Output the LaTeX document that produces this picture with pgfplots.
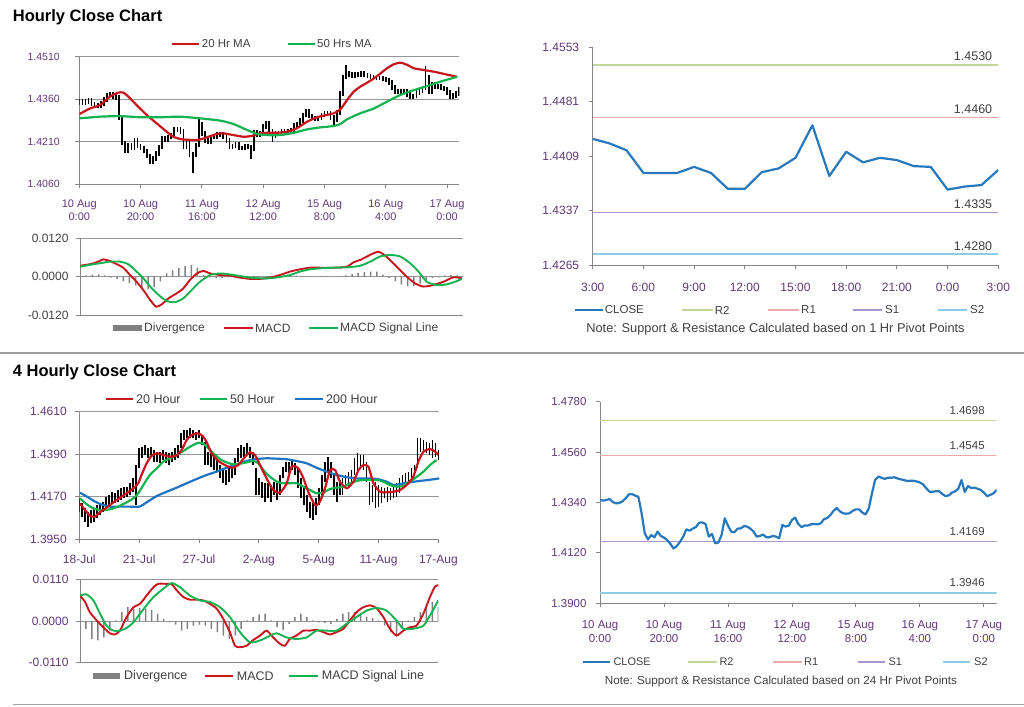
\documentclass[border=0pt]{standalone}
\usepackage{fontspec}
\setmainfont{Liberation Sans}
\usepackage{pgfplots}
\usepackage{pgfplotstable}
\pgfplotsset{compat=1.18}

\definecolor{axgray}{RGB}{134,134,134}
\definecolor{gridgray}{RGB}{150,150,150}
\definecolor{tickpurple}{RGB}{96,56,120}
\definecolor{legtext}{RGB}{64,64,64}
\definecolor{mared}{RGB}{200,22,30}
\definecolor{magreen}{RGB}{20,178,80}
\definecolor{mablue}{RGB}{30,115,195}
\definecolor{closeblue}{RGB}{40,120,190}
\definecolor{rtwo}{RGB}{196,214,155}
\definecolor{rone}{RGB}{238,170,170}
\definecolor{sone}{RGB}{170,150,205}
\definecolor{stwo}{RGB}{140,205,228}
\definecolor{divgray}{RGB}{128,128,128}
\definecolor{sepgray}{RGB}{160,160,160}

% hourly data: hour index, close, low, high
\pgfplotstableread{
h c lo hi
0 1.4351 1.4341 1.4361
1 1.4348 1.4340 1.4359
2 1.4351 1.4340 1.4359
3 1.4355 1.4343 1.4363
4 1.4342 1.4334 1.4363
5 1.4336 1.4328 1.4350
6 1.4338 1.4328 1.4346
7 1.4345 1.4330 1.4353
8 1.4358 1.4337 1.4366
9 1.4375 1.4350 1.4383
10 1.4377 1.4367 1.4385
11 1.4370 1.4362 1.4385
12 1.4365 1.4357 1.4378
13 1.4293 1.4285 1.4373
14 1.4205 1.4197 1.4301
15 1.4179 1.4171 1.4213
16 1.4198 1.4171 1.4206
17 1.4188 1.4180 1.4206
18 1.4213 1.4180 1.4221
19 1.4194 1.4186 1.4221
20 1.4187 1.4179 1.4202
21 1.4176 1.4168 1.4195
22 1.4159 1.4151 1.4184
23 1.4139 1.4131 1.4167
24 1.4150 1.4131 1.4158
25 1.4168 1.4142 1.4176
26 1.4191 1.4160 1.4199
27 1.4223 1.4183 1.4231
28 1.4217 1.4209 1.4231
29 1.4226 1.4209 1.4234
30 1.4233 1.4218 1.4241
31 1.4252 1.4225 1.4260
32 1.4253 1.4244 1.4261
33 1.4246 1.4238 1.4261
34 1.4191 1.4183 1.4254
35 1.4203 1.4183 1.4211
36 1.4162 1.4154 1.4211
37 1.4165 1.4100 1.4173
38 1.4198 1.4157 1.4206
39 1.4271 1.4190 1.4290
40 1.4239 1.4231 1.4279
41 1.4213 1.4205 1.4247
42 1.4210 1.4202 1.4221
43 1.4226 1.4202 1.4234
44 1.4227 1.4218 1.4235
45 1.4237 1.4219 1.4245
46 1.4235 1.4227 1.4245
47 1.4226 1.4218 1.4243
48 1.4213 1.4205 1.4234
49 1.4191 1.4183 1.4221
50 1.4194 1.4183 1.4202
51 1.4200 1.4186 1.4208
52 1.4188 1.4180 1.4208
53 1.4188 1.4180 1.4196
54 1.4194 1.4180 1.4202
55 1.4191 1.4183 1.4202
56 1.4184 1.4148 1.4199
57 1.4242 1.4176 1.4250
58 1.4235 1.4227 1.4250
59 1.4239 1.4227 1.4247
60 1.4264 1.4231 1.4272
61 1.4274 1.4256 1.4282
62 1.4246 1.4238 1.4282
63 1.4232 1.4210 1.4254
64 1.4240 1.4224 1.4248
65 1.4239 1.4231 1.4248
66 1.4245 1.4231 1.4253
67 1.4246 1.4237 1.4254
68 1.4245 1.4237 1.4254
69 1.4249 1.4237 1.4257
70 1.4267 1.4241 1.4275
71 1.4272 1.4259 1.4280
72 1.4285 1.4264 1.4293
73 1.4304 1.4277 1.4312
74 1.4316 1.4296 1.4324
75 1.4301 1.4293 1.4324
76 1.4293 1.4285 1.4309
77 1.4291 1.4283 1.4301
78 1.4293 1.4283 1.4301
79 1.4304 1.4285 1.4312
80 1.4310 1.4296 1.4318
81 1.4310 1.4302 1.4318
82 1.4296 1.4288 1.4318
83 1.4288 1.4270 1.4304
84 1.4313 1.4280 1.4321
85 1.4380 1.4305 1.4388
86 1.4438 1.4372 1.4446
87 1.4453 1.4430 1.4480
88 1.4448 1.4440 1.4461
89 1.4443 1.4435 1.4456
90 1.4448 1.4435 1.4456
91 1.4448 1.4440 1.4456
92 1.4450 1.4440 1.4458
93 1.4445 1.4437 1.4458
94 1.4441 1.4433 1.4453
95 1.4438 1.4430 1.4449
96 1.4434 1.4426 1.4446
97 1.4435 1.4426 1.4443
98 1.4435 1.4427 1.4443
99 1.4432 1.4424 1.4443
100 1.4427 1.4419 1.4440
101 1.4419 1.4411 1.4435
102 1.4402 1.4394 1.4427
103 1.4387 1.4379 1.4410
104 1.4387 1.4379 1.4395
105 1.4389 1.4379 1.4397
106 1.4389 1.4381 1.4397
107 1.4377 1.4369 1.4397
108 1.4368 1.4360 1.4385
109 1.4371 1.4360 1.4379
110 1.4383 1.4363 1.4391
111 1.4389 1.4375 1.4397
112 1.4400 1.4381 1.4408
113 1.4438 1.4392 1.4477
114 1.4386 1.4378 1.4446
115 1.4412 1.4378 1.4420
116 1.4403 1.4395 1.4420
117 1.4405 1.4395 1.4413
118 1.4400 1.4392 1.4413
119 1.4395 1.4387 1.4408
120 1.4383 1.4375 1.4403
121 1.4368 1.4360 1.4391
122 1.4373 1.4360 1.4381
123 1.4380 1.4365 1.4388
124 1.4395 1.4372 1.4403
}\hourly

% 4-hourly data: bar index, low, high
\pgfplotstableread{
b lo hi
0 1.4093 1.4162
1 1.4067 1.4136
2 1.4041 1.4110
3 1.4015 1.4093
4 1.4033 1.4102
5 1.4041 1.4110
6 1.4059 1.4127
7 1.4076 1.4136
8 1.4093 1.4145
9 1.4110 1.4171
10 1.4119 1.4179
11 1.4136 1.4196
12 1.4136 1.4188
13 1.4145 1.4205
14 1.4153 1.4214
15 1.4162 1.4222
16 1.4171 1.4222
17 1.4179 1.4240
18 1.4196 1.4265
19 1.4127 1.4334
20 1.4317 1.4420
21 1.4369 1.4429
22 1.4386 1.4438
23 1.4369 1.4420
24 1.4377 1.4429
25 1.4352 1.4412
26 1.4352 1.4403
27 1.4343 1.4403
28 1.4360 1.4412
29 1.4343 1.4403
30 1.4334 1.4395
31 1.4352 1.4403
32 1.4360 1.4420
33 1.4369 1.4438
34 1.4420 1.4498
35 1.4464 1.4515
36 1.4472 1.4515
37 1.4472 1.4524
38 1.4472 1.4515
39 1.4464 1.4507
40 1.4472 1.4515
41 1.4438 1.4489
42 1.4334 1.4455
43 1.4334 1.4403
44 1.4326 1.4395
45 1.4308 1.4386
46 1.4300 1.4360
47 1.4265 1.4334
48 1.4240 1.4317
49 1.4231 1.4308
50 1.4248 1.4317
51 1.4265 1.4334
52 1.4283 1.4369
53 1.4352 1.4420
54 1.4369 1.4438
55 1.4377 1.4429
56 1.4386 1.4446
57 1.4369 1.4429
58 1.4334 1.4403
59 1.4179 1.4317
60 1.4179 1.4265
61 1.4162 1.4248
62 1.4145 1.4240
63 1.4162 1.4240
64 1.4145 1.4231
65 1.4179 1.4248
66 1.4153 1.4240
67 1.4179 1.4283
68 1.4265 1.4326
69 1.4300 1.4352
70 1.4291 1.4352
71 1.4308 1.4360
72 1.4283 1.4343
73 1.4214 1.4317
74 1.4162 1.4265
75 1.4127 1.4214
76 1.4093 1.4179
77 1.4059 1.4145
78 1.4050 1.4136
79 1.4076 1.4162
80 1.4127 1.4214
81 1.4179 1.4283
82 1.4248 1.4352
83 1.4291 1.4377
84 1.4265 1.4352
85 1.4179 1.4283
86 1.4145 1.4248
87 1.4179 1.4257
88 1.4179 1.4265
89 1.4214 1.4283
90 1.4214 1.4300
91 1.4231 1.4308
92 1.4283 1.4369
93 1.4308 1.4395
94 1.4317 1.4386
95 1.4308 1.4386
96 1.4248 1.4352
97 1.4127 1.4248
98 1.4145 1.4231
99 1.4110 1.4248
100 1.4119 1.4231
101 1.4136 1.4222
102 1.4162 1.4214
103 1.4145 1.4222
104 1.4153 1.4214
105 1.4162 1.4231
106 1.4171 1.4240
107 1.4188 1.4265
108 1.4214 1.4283
109 1.4222 1.4291
110 1.4240 1.4300
111 1.4257 1.4317
112 1.4283 1.4334
113 1.4317 1.4472
114 1.4403 1.4472
115 1.4403 1.4464
116 1.4395 1.4455
117 1.4386 1.4446
118 1.4369 1.4464
119 1.4377 1.4446
120 1.4360 1.4412
}\fourhourly

\pgfplotsset{
  fxbase/.style={
    scale only axis,
    anchor=north west,
    axis x line*=bottom, axis y line*=left,
    axis line style={draw=axgray, line width=0.9pt, -},
    tick style={draw=axgray, line width=0.9pt},
    tick align=outside, major tick length=4pt,
    minor tick num=0,
    scaled y ticks=false, scaled x ticks=false,
    grid style={draw=gridgray, line width=0.9pt},
  },
  candle/.style={only marks, mark=*, mark size=0pt,
    mark options={draw=none, fill=none},
    error bars/.cd, y dir=plus, y explicit, error mark=none,
    error bar style={draw=black, line width=1.7pt}},
}

\tikzset{
  lgt/.style={anchor=west, inner sep=0pt, text=legtext},
}

\begin{document}
\begin{tikzpicture}
\useasboundingbox (0pt,0pt) rectangle (1024pt,-706pt);

% ---------------- titles and separators
\node[anchor=base west, inner sep=0pt, font=\bfseries\fontsize{16.5}{20}\selectfont] at (12.7pt,-22pt) {Hourly Close Chart};
\node[anchor=base west, inner sep=0pt, font=\bfseries\fontsize{16.5}{20}\selectfont] at (12.7pt,-376pt) {4 Hourly Close Chart};
\draw[sepgray, line width=1.6pt] (0pt,-353pt) -- (1024pt,-353pt);
\draw[sepgray, line width=1.6pt] (13pt,-704.5pt) -- (1024pt,-704.5pt);

% ================= Panel 1: hourly candles
\begin{axis}[fxbase, at={(79.3pt,-56.7pt)}, width=380pt, height=127.3pt,
  xmin=0, xmax=124, ymin=1.4060, ymax=1.4510,
  ytick={1.4060,1.4210,1.4360,1.4510},
  yticklabels={1.4060,1.4210,1.4360,1.4510},
  ymajorgrids,
  xtick={0,20,40,60,80,100,120},
  xticklabels={{10 Aug\\0:00},{10 Aug\\20:00},{11 Aug\\16:00},{12 Aug\\12:00},{15 Aug\\8:00},{16 Aug\\4:00},{17 Aug\\0:00}},
  yticklabel style={font=\fontsize{10.5}{12}\selectfont, text=tickpurple, xshift=-12pt},
  xticklabel style={font=\fontsize{11}{13.3}\selectfont, text=tickpurple, align=center, yshift=-8pt},
]
\addplot[candle] table[x=h, y=lo, y error plus expr=\thisrow{hi}-\thisrow{lo}] {\hourly};
\addplot[mared, line width=2.2pt, smooth, tension=0.4] coordinates {
(0,1.4307)(3.5,1.4327)(6.8,1.4339)(10,1.4369)(12.7,1.4383)(14.4,1.4383)(16,1.4369)(18.7,1.4339)(22,1.4304)(25.3,1.4274)(28.5,1.4245)(30.7,1.4227)(33.4,1.4218)(36.2,1.4216)(38.9,1.4216)(41.6,1.4225)(44.9,1.4237)(47,1.4239)(50.3,1.4233)(53.6,1.4227)(56.3,1.4230)(59,1.4239)(61.2,1.4241)(64.5,1.4241)(67.8,1.4245)(71,1.4257)(74.3,1.4280)(77.6,1.4296)(80.8,1.4304)(83,1.4310)(85.2,1.4324)(87.4,1.4357)(89.5,1.4386)(91.7,1.4404)(93.9,1.4418)(96.1,1.4433)(98.3,1.4451)(100.4,1.4469)(102.6,1.4483)(104.8,1.4489)(107,1.4481)(109.2,1.4469)(112.4,1.4463)(115.7,1.4457)(119,1.4449)(123.3,1.4439)};
\addplot[magreen, line width=2.2pt, smooth, tension=0.4] coordinates {
(0,1.4292)(6.8,1.4298)(13.3,1.4300)(19.8,1.4296)(26.4,1.4296)(32.9,1.4298)(39.4,1.4292)(46,1.4284)(50.3,1.4272)(54.7,1.4251)(58,1.4237)(61.2,1.4233)(65.6,1.4233)(69.9,1.4241)(74.3,1.4253)(78.6,1.4260)(83,1.4265)(85.2,1.4272)(87.4,1.4289)(91.7,1.4310)(96.1,1.4327)(100.4,1.4351)(104.8,1.4375)(109.2,1.4392)(113.5,1.4406)(117.9,1.4422)(123.3,1.4439)};
\end{axis}
\draw[mared, line width=2pt] (171.7pt,-44pt) -- (199pt,-44pt);
\node[lgt, font=\fontsize{11.5}{13}\selectfont] at (201.7pt,-44pt) {20 Hr MA};
\draw[magreen, line width=2pt] (288.3pt,-44pt) -- (315pt,-44pt);
\node[lgt, font=\fontsize{11.5}{13}\selectfont] at (317pt,-44pt) {50 Hrs MA};

% ================= Panel 2: hourly MACD
\begin{axis}[fxbase, at={(80pt,-238.3pt)}, width=383.3pt, height=76.7pt,
  xmin=0, xmax=124, ymin=-0.012, ymax=0.012,
  ytick={-0.012,0,0.012}, yticklabels={-0.0120,0.0000,0.0120},
  ymajorgrids, xtick=\empty,
  yticklabel style={font=\fontsize{12}{14}\selectfont, text=legtext, xshift=-4pt},
]
\addplot[ybar, bar width=1.5pt, bar shift=0pt, fill=divgray, draw=none] coordinates {
(0,0.0002)(2,0.0004)(4,0.0006)(6,0.0007)(8,0.0004)(10,-0.0003)(12,-0.0007)(14,-0.0014)(16,-0.0020)(18,-0.0027)(20,-0.0033)(22,-0.0038)(24,-0.0033)(26,-0.0015)(28,0.0010)(30,0.0020)(32,0.0027)(34,0.0033)(36,0.0036)(38,0.0028)(40,0.0005)(42,-0.0002)(44,-0.0004)(46,-0.0005)(48,-0.0002)(50,-0.0002)(52,-0.0001)(54,-0.0002)(56,-0.0002)(58,-0.0001)(60,0.0001)(62,0.0002)(64,0.0003)(66,0.0002)(68,0.0002)(70,0.0003)(72,0.0002)(74,0.0002)(76,0.0001)(78,0.0001)(80,0.0001)(82,0.0001)(84,0.0002)(86,0.0004)(88,0.0008)(90,0.0012)(92,0.0014)(94,0.0016)(96,0.0016)(98,0.0006)(100,-0.0004)(102,-0.0014)(104,-0.0024)(106,-0.0030)(108,-0.0030)(110,-0.0022)(112,-0.0010)(114,-0.0004)(116,-0.0002)(118,0.0004)(120,0.0005)(122,0.0004)(124,0.0002)};
\addplot[mared, line width=1.9pt, smooth, tension=0.4] coordinates {
(0,0.0034)(3.2,0.0039)(5.4,0.0045)(7.6,0.0054)(9.7,0.0049)(11.9,0.0039)(14,0.0028)(16.2,0.0005)(18.3,-0.0016)(20.5,-0.0042)(22.7,-0.0073)(24.6,-0.0094)(26.4,-0.0087)(28.6,-0.0068)(31.3,-0.0052)(33.4,-0.0037)(35.6,-0.0010)(37.8,0.0010)(39.9,0.0018)(42.1,0.0010)(45.3,0.0005)(48.5,0.0003)(51.8,-0.0003)(55,-0.0007)(58.3,-0.0007)(61.5,-0.0003)(64.7,0.0005)(68,0.0016)(71.2,0.0023)(74.4,0.0028)(77.7,0.0028)(82,0.0028)(86.3,0.0031)(88.5,0.0045)(90.6,0.0052)(92.8,0.0063)(94.9,0.0073)(96.5,0.0078)(98.2,0.0070)(100.3,0.0052)(103,0.0026)(105.7,0)(108.4,-0.0021)(111.1,-0.0031)(114.3,-0.0026)(117.6,-0.0016)(120.8,-0.0002)(123.5,-0.0005)};
\addplot[magreen, line width=1.9pt, smooth, tension=0.4] coordinates {
(0,0.0031)(3.2,0.0037)(6.5,0.0042)(9.7,0.0047)(12.9,0.0047)(15.6,0.0039)(18.3,0.0016)(20.5,-0.0005)(22.7,-0.0031)(25.4,-0.0057)(28,-0.0076)(30.7,-0.0080)(33.4,-0.0068)(36.1,-0.0042)(38.8,-0.0016)(42.1,0.0005)(45.3,0.0010)(48.5,0.0007)(51.8,0.0002)(55,-0.0003)(58.3,-0.0005)(61.5,-0.0005)(64.7,-0.0001)(68,0.0005)(71.2,0.0016)(74.4,0.0023)(77.7,0.0026)(82,0.0028)(86.3,0.0029)(90.6,0.0034)(93.9,0.0047)(97.1,0.0063)(100.3,0.0068)(103.6,0.0063)(106.8,0.0042)(109.5,0.0016)(112.2,-0.0016)(115.4,-0.0026)(118.7,-0.0024)(121.9,-0.0014)(123.5,-0.0007)};
\end{axis}
\fill[divgray] (113pt,-325.3pt) rectangle (142pt,-331.3pt);
\node[lgt, font=\fontsize{12}{14}\selectfont] at (144pt,-328.3pt) {Divergence};
\draw[mared, line width=2pt] (224pt,-328.3pt) -- (253pt,-328.3pt);
\node[lgt, font=\fontsize{12}{14}\selectfont] at (255pt,-328.3pt) {MACD};
\draw[magreen, line width=2pt] (309pt,-328.3pt) -- (338pt,-328.3pt);
\node[lgt, font=\fontsize{12}{14}\selectfont] at (340pt,-328.3pt) {MACD Signal Line};

% ================= Panel 3: hourly close with 1 Hr pivots
\begin{axis}[fxbase, at={(592.7pt,-47.3pt)}, width=405.6pt, height=218pt,
  xmin=0, xmax=24, ymin=1.4265, ymax=1.4553,
  ytick={1.4265,1.4337,1.4409,1.4481,1.4553},
  yticklabels={1.4265,1.4337,1.4409,1.4481,1.4553},
  xtick={0,3,6,9,12,15,18,21,24},
  xticklabels={3:00,6:00,9:00,12:00,15:00,18:00,21:00,0:00,3:00},
  yticklabel style={font=\fontsize{12}{14}\selectfont, text=tickpurple, xshift=-6pt},
  xticklabel style={font=\fontsize{12}{14}\selectfont, text=tickpurple, yshift=-10pt},
]
\addplot[rtwo, line width=1.6pt] coordinates {(0,1.4530)(24,1.4530)};
\addplot[rone, line width=1.6pt] coordinates {(0,1.4460)(24,1.4460)};
\addplot[sone, line width=1.6pt] coordinates {(0,1.4335)(24,1.4335)};
\addplot[stwo, line width=1.6pt] coordinates {(0,1.4280)(24,1.4280)};
\addplot[closeblue, line width=2.2pt, line join=round] coordinates {
(0,1.4432)(1,1.4426)(2,1.4417)(3,1.4387)(4,1.4387)(5,1.4387)(6,1.4395)(7,1.4387)(8,1.4366)(9,1.4366)(10,1.4388)(11,1.4393)(12,1.4407)(13,1.4450)(14,1.4383)(15,1.4415)(16,1.4401)(17,1.4407)(18,1.4404)(19,1.4396)(20,1.4395)(21,1.4365)(22,1.4369)(23,1.4371)(24,1.4391)};
\node[anchor=south east, inner sep=0pt, yshift=3.5pt, text=legtext, font=\fontsize{12.5}{14}\selectfont] at (axis cs:23.65,1.4530) {1.4530};
\node[anchor=south east, inner sep=0pt, yshift=3.5pt, text=legtext, font=\fontsize{12.5}{14}\selectfont] at (axis cs:23.65,1.4460) {1.4460};
\node[anchor=south east, inner sep=0pt, yshift=3.5pt, text=legtext, font=\fontsize{12.5}{14}\selectfont] at (axis cs:23.65,1.4335) {1.4335};
\node[anchor=south east, inner sep=0pt, yshift=3.5pt, text=legtext, font=\fontsize{12.5}{14}\selectfont] at (axis cs:23.65,1.4280) {1.4280};
\end{axis}
\draw[closeblue, line width=2pt] (575pt,-310pt) -- (602.7pt,-310pt);
\node[lgt, font=\fontsize{11.5}{13}\selectfont] at (604.7pt,-310pt) {CLOSE};
\draw[rtwo, line width=1.6pt] (682pt,-310pt) -- (712.7pt,-310pt);
\node[lgt, font=\fontsize{11.5}{13}\selectfont] at (714.7pt,-310pt) {R2};
\draw[rone, line width=1.6pt] (768pt,-310pt) -- (799pt,-310pt);
\node[lgt, font=\fontsize{11.5}{13}\selectfont] at (801pt,-310pt) {R1};
\draw[sone, line width=1.6pt] (853pt,-310pt) -- (882pt,-310pt);
\node[lgt, font=\fontsize{11.5}{13}\selectfont] at (885pt,-310pt) {S1};
\draw[stwo, line width=1.6pt] (938pt,-310pt) -- (967pt,-310pt);
\node[lgt, font=\fontsize{11.5}{13}\selectfont] at (970pt,-310pt) {S2};
\node[inner sep=0pt, text=legtext, font=\fontsize{12.8}{15}\selectfont] at (775.5pt,-329pt) {Note: Support \& Resistance Calculated based on 1 Hr Pivot Points};

% ================= Panel 4: 4-hourly candles
\begin{axis}[fxbase, at={(79.3pt,-411.7pt)}, width=360pt, height=127.6pt,
  xmin=0, xmax=120.3, ymin=1.3950, ymax=1.4610,
  ytick={1.3950,1.4170,1.4390,1.4610},
  yticklabels={1.3950,1.4170,1.4390,1.4610},
  ymajorgrids,
  xtick={0,20,40,60,80,100,120},
  xticklabels={18-Jul,21-Jul,27-Jul,2-Aug,5-Aug,11-Aug,17-Aug},
  yticklabel style={font=\fontsize{12}{14}\selectfont, text=tickpurple, xshift=-5pt},
  xticklabel style={font=\fontsize{12}{14}\selectfont, text=tickpurple, yshift=-8pt},
]
\addplot[candle] table[x=b, y=lo, y error plus expr=\thisrow{hi}-\thisrow{lo}] {\fourhourly};
\addplot[mablue, line width=2.2pt, smooth, tension=0.4] coordinates {
(0.2,1.4191)(2.5,1.4171)(4.7,1.4150)(6.9,1.4133)(10.3,1.4119)(13.6,1.4119)(16.9,1.4119)(20.1,1.4119)(22.5,1.4141)(25.9,1.4174)(29.2,1.4196)(32.5,1.4217)(35.9,1.4240)(39.2,1.4262)(42.6,1.4283)(45.9,1.4300)(49.2,1.4320)(52.6,1.4338)(55.9,1.4355)(59.3,1.4365)(62.6,1.4369)(66,1.4367)(69.3,1.4364)(72.6,1.4355)(76,1.4343)(79.3,1.4320)(82.7,1.4300)(86,1.4283)(89.4,1.4271)(92.7,1.4265)(96,1.4265)(99.4,1.4262)(102.7,1.4248)(105,1.4231)(107.2,1.4236)(110.5,1.4245)(113.9,1.4252)(117.2,1.4258)(120.3,1.4265)};
\addplot[magreen, line width=2.2pt, smooth, tension=0.4] coordinates {
(0.2,1.4162)(2.5,1.4131)(4.7,1.4110)(6.9,1.4102)(9.1,1.4102)(11.4,1.4110)(13.6,1.4124)(15.8,1.4141)(18.1,1.4162)(19.7,1.4188)(21.4,1.4231)(23.6,1.4283)(26.1,1.4320)(28.1,1.4352)(30.3,1.4369)(32.5,1.4386)(34.8,1.4407)(37,1.4429)(39.2,1.4446)(40.9,1.4450)(42.6,1.4429)(44.8,1.4395)(47,1.4365)(49.2,1.4348)(51.5,1.4338)(53.7,1.4341)(55.9,1.4348)(58.2,1.4355)(59.8,1.4343)(61.5,1.4308)(63.7,1.4274)(66,1.4248)(68.2,1.4240)(70.4,1.4240)(72.6,1.4240)(74.9,1.4222)(77.1,1.4205)(79.3,1.4188)(81.6,1.4193)(83.8,1.4210)(86,1.4217)(88.2,1.4222)(90.5,1.4240)(92.7,1.4252)(94.9,1.4257)(97.2,1.4257)(99.4,1.4257)(101.6,1.4248)(103.8,1.4231)(106.1,1.4222)(108.3,1.4227)(110.5,1.4248)(112.8,1.4274)(115,1.4300)(117.2,1.4334)(119.4,1.4360)};
\addplot[mared, line width=2.2pt, smooth, tension=0.4] coordinates {
(0.2,1.4136)(1.9,1.4102)(3.6,1.4072)(5.2,1.4067)(6.9,1.4090)(9.1,1.4114)(11.4,1.4141)(13.6,1.4165)(15.8,1.4188)(18.1,1.4214)(19.7,1.4240)(20.8,1.4283)(22.5,1.4343)(24.2,1.4383)(26.1,1.4395)(28.1,1.4386)(30.3,1.4377)(32.5,1.4383)(34.2,1.4412)(35.9,1.4464)(37.5,1.4489)(39.8,1.4498)(41.4,1.4481)(42.6,1.4451)(44.2,1.4395)(46.5,1.4355)(48.7,1.4334)(50.9,1.4320)(53.1,1.4334)(55.4,1.4377)(57,1.4400)(58.7,1.4386)(60.4,1.4334)(62.6,1.4265)(64.8,1.4205)(67.1,1.4191)(69.3,1.4240)(71,1.4326)(73.2,1.4317)(74.9,1.4265)(76.5,1.4196)(78.8,1.4127)(80.4,1.4145)(82.1,1.4214)(83.8,1.4308)(85.5,1.4308)(87.1,1.4248)(89.4,1.4214)(91.6,1.4248)(93.3,1.4308)(94.9,1.4334)(96.6,1.4326)(98.3,1.4240)(100.5,1.4196)(102.7,1.4193)(105,1.4196)(107.2,1.4205)(109.4,1.4231)(111.6,1.4274)(113.3,1.4352)(115,1.4403)(117.2,1.4417)(118.9,1.4403)(120,1.4386)};
\end{axis}
\draw[mared, line width=2pt] (106pt,-399.3pt) -- (133.3pt,-399.3pt);
\node[lgt, font=\fontsize{12.5}{14}\selectfont] at (136pt,-399.3pt) {20 Hour};
\draw[magreen, line width=2pt] (200pt,-399.3pt) -- (227.3pt,-399.3pt);
\node[lgt, font=\fontsize{12.5}{14}\selectfont] at (230pt,-399.3pt) {50 Hour};
\draw[mablue, line width=2pt] (295pt,-399.3pt) -- (322.7pt,-399.3pt);
\node[lgt, font=\fontsize{12.5}{14}\selectfont] at (326pt,-399.3pt) {200 Hour};

% ================= Panel 5: 4-hourly MACD
\begin{axis}[fxbase, at={(80pt,-579.7pt)}, width=358.3pt, height=83pt,
  xmin=0, xmax=120, ymin=-0.011, ymax=0.011,
  ytick={-0.011,0,0.011}, yticklabels={-0.0110,0.0000,0.0110},
  ymajorgrids, xtick=\empty,
  yticklabel style={font=\fontsize{12}{14}\selectfont, text=tickpurple, xshift=-4pt},
]
\addplot[ybar, bar width=1.5pt, bar shift=0pt, fill=divgray, draw=none] coordinates {
(0,0)(2,-0.0020)(4,-0.0047)(6,-0.0051)(8,-0.0043)(10,-0.0025)(12,0.0002)(14,0.0024)(16,0.0037)(18,0.0033)(20,0.0035)(22,0.0033)(24,0.0030)(26,0.0020)(28,0.0006)(30,-0.0003)(32,-0.0009)(34,-0.0025)(36,-0.0020)(38,-0.0012)(40,-0.0009)(42,-0.0012)(44,-0.0020)(46,-0.0029)(48,-0.0038)(50,-0.0047)(52,-0.0038)(54,-0.0020)(56,0.0002)(58,0.0011)(60,0.0018)(62,0.0020)(64,0.0002)(66,-0.0016)(68,-0.0023)(70,-0.0007)(72,0.0011)(74,0.0020)(76,0.0011)(78,0.0002)(80,-0.0003)(82,-0.0005)(84,-0.0007)(86,0.0006)(88,0.0020)(90,0.0024)(92,0.0024)(94,0.0020)(96,0.0012)(98,0.0009)(100,0.0002)(102,-0.0012)(104,-0.0029)(106,-0.0038)(108,-0.0020)(110,0.0002)(112,0.0011)(114,0.0024)(116,0.0037)(118,0.0051)(120,0.0037)};
\addplot[mared, line width=1.9pt, smooth, tension=0.4] coordinates {
(0,0.0068)(1.7,0.0051)(3.3,0.0024)(5.6,0.0002)(7.8,-0.0016)(10,-0.0032)(11.7,-0.0035)(13.4,-0.0025)(15.6,0.0011)(17.9,0.0037)(20.1,0.0046)(22.3,0.0068)(24.6,0.0090)(26.2,0.0099)(29,0.0099)(30.7,0.0098)(32.4,0.0082)(34.6,0.0064)(36.8,0.0057)(39.1,0.0057)(41.3,0.0055)(43.5,0.0046)(45.8,0.0033)(48,0.0006)(50.2,-0.0029)(51.9,-0.0065)(53.6,-0.0069)(55.8,-0.0065)(58,-0.0050)(60.3,-0.0038)(62.5,-0.0025)(64.7,-0.0043)(67,-0.0060)(68.6,-0.0065)(70.3,-0.0047)(72.5,-0.0038)(74.8,-0.0025)(77,-0.0025)(79.2,-0.0023)(81.5,-0.0029)(83.7,-0.0035)(85.9,-0.0029)(88.2,-0.0020)(90.4,0.0002)(92.6,0.0024)(94.9,0.0037)(97.1,0.0042)(99.3,0.0035)(101.6,0.0011)(103.8,-0.0020)(106,-0.0038)(108.3,-0.0025)(110.5,-0.0016)(112.7,-0.0012)(115,0.0020)(117.2,0.0064)(118.9,0.0092)(120,0.0095)};
\addplot[magreen, line width=1.9pt, smooth, tension=0.4] coordinates {
(0,0.0068)(2.2,0.0071)(4.5,0.0055)(6.7,0.0020)(8.9,-0.0012)(11.2,-0.0025)(13.4,-0.0025)(15.6,-0.0018)(17.9,-0.0003)(20.1,0.0020)(22.3,0.0042)(24.6,0.0064)(27.9,0.0086)(30.7,0.0101)(33.5,0.0090)(36.8,0.0068)(40.2,0.0055)(43.5,0.0051)(46.9,0.0037)(50.2,0.0011)(53.6,-0.0029)(56.9,-0.0056)(60.3,-0.0051)(62.5,-0.0043)(65.8,-0.0032)(69.2,-0.0043)(72.5,-0.0047)(75.9,-0.0043)(79.2,-0.0025)(82.6,-0.0025)(85.9,-0.0025)(89.3,-0.0007)(92.6,0.0011)(96,0.0028)(99.3,0.0035)(102.7,0.0028)(106,0.0002)(108.3,-0.0020)(111.6,-0.0020)(115,-0.0012)(117.2,0.0015)(120,0.0055)};
\end{axis}
\fill[divgray] (92.7pt,-673pt) rectangle (120pt,-679pt);
\node[lgt, font=\fontsize{12.5}{14}\selectfont] at (124pt,-676pt) {Divergence};
\draw[mared, line width=2pt] (205pt,-676pt) -- (233.3pt,-676pt);
\node[lgt, font=\fontsize{12.5}{14}\selectfont] at (236.7pt,-676pt) {MACD};
\draw[magreen, line width=2pt] (289.3pt,-676pt) -- (318.3pt,-676pt);
\node[lgt, font=\fontsize{12.5}{14}\selectfont] at (321.7pt,-676pt) {MACD Signal Line};

% ================= Panel 6: hourly close with 24 Hr pivots
\begin{axis}[fxbase, at={(600pt,-401.7pt)}, width=396.7pt, height=201.6pt,
  xmin=0, xmax=124, ymin=1.3900, ymax=1.4780,
  ytick={1.3900,1.4120,1.4340,1.4560,1.4780},
  yticklabels={1.3900,1.4120,1.4340,1.4560,1.4780},
  xtick={0,20,40,60,80,100,120},
  xticklabels={{10 Aug\\0:00},{10 Aug\\20:00},{11 Aug\\16:00},{12 Aug\\12:00},{15 Aug\\8:00},{16 Aug\\4:00},{17 Aug\\0:00}},
  yticklabel style={font=\fontsize{11.5}{13}\selectfont, text=tickpurple, xshift=-6pt},
  xticklabel style={font=\fontsize{11.5}{13.3}\selectfont, text=tickpurple, align=center, yshift=-10pt},
]
\addplot[rtwo, line width=1.6pt] coordinates {(0,1.4698)(124,1.4698)};
\addplot[rone, line width=1.6pt] coordinates {(0,1.4545)(124,1.4545)};
\addplot[sone, line width=1.6pt] coordinates {(0,1.4169)(124,1.4169)};
\addplot[stwo, line width=1.6pt] coordinates {(0,1.3946)(124,1.3946)};
\addplot[closeblue, line width=2.2pt, line join=round] table[x=h, y=c] {\hourly};
\node[anchor=south east, inner sep=0pt, yshift=6pt, text=legtext, font=\fontsize{11.5}{13}\selectfont] at (axis cs:120.3,1.4698) {1.4698};
\node[anchor=south east, inner sep=0pt, yshift=6pt, text=legtext, font=\fontsize{11.5}{13}\selectfont] at (axis cs:120.3,1.4545) {1.4545};
\node[anchor=south east, inner sep=0pt, yshift=6pt, text=legtext, font=\fontsize{11.5}{13}\selectfont] at (axis cs:120.3,1.4169) {1.4169};
\node[anchor=south east, inner sep=0pt, yshift=6pt, text=legtext, font=\fontsize{11.5}{13}\selectfont] at (axis cs:120.3,1.3946) {1.3946};
\end{axis}
\draw[closeblue, line width=2pt] (582.7pt,-661.7pt) -- (610pt,-661.7pt);
\node[lgt, font=\fontsize{11}{13}\selectfont] at (613.3pt,-661.7pt) {CLOSE};
\draw[rtwo, line width=1.6pt] (688pt,-661.7pt) -- (716.7pt,-661.7pt);
\node[lgt, font=\fontsize{11}{13}\selectfont] at (719.3pt,-661.7pt) {R2};
\draw[rone, line width=1.6pt] (773pt,-661.7pt) -- (801.7pt,-661.7pt);
\node[lgt, font=\fontsize{11}{13}\selectfont] at (804pt,-661.7pt) {R1};
\draw[sone, line width=1.6pt] (858pt,-661.7pt) -- (885pt,-661.7pt);
\node[lgt, font=\fontsize{11}{13}\selectfont] at (888.3pt,-661.7pt) {S1};
\draw[stwo, line width=1.6pt] (943pt,-661.7pt) -- (970pt,-661.7pt);
\node[lgt, font=\fontsize{11}{13}\selectfont] at (974pt,-661.7pt) {S2};
\node[inner sep=0pt, text=legtext, font=\fontsize{11.7}{14}\selectfont] at (781pt,-681.7pt) {Note: Support \& Resistance Calculated based on 24 Hr Pivot Points};

\end{tikzpicture}
\end{document}
